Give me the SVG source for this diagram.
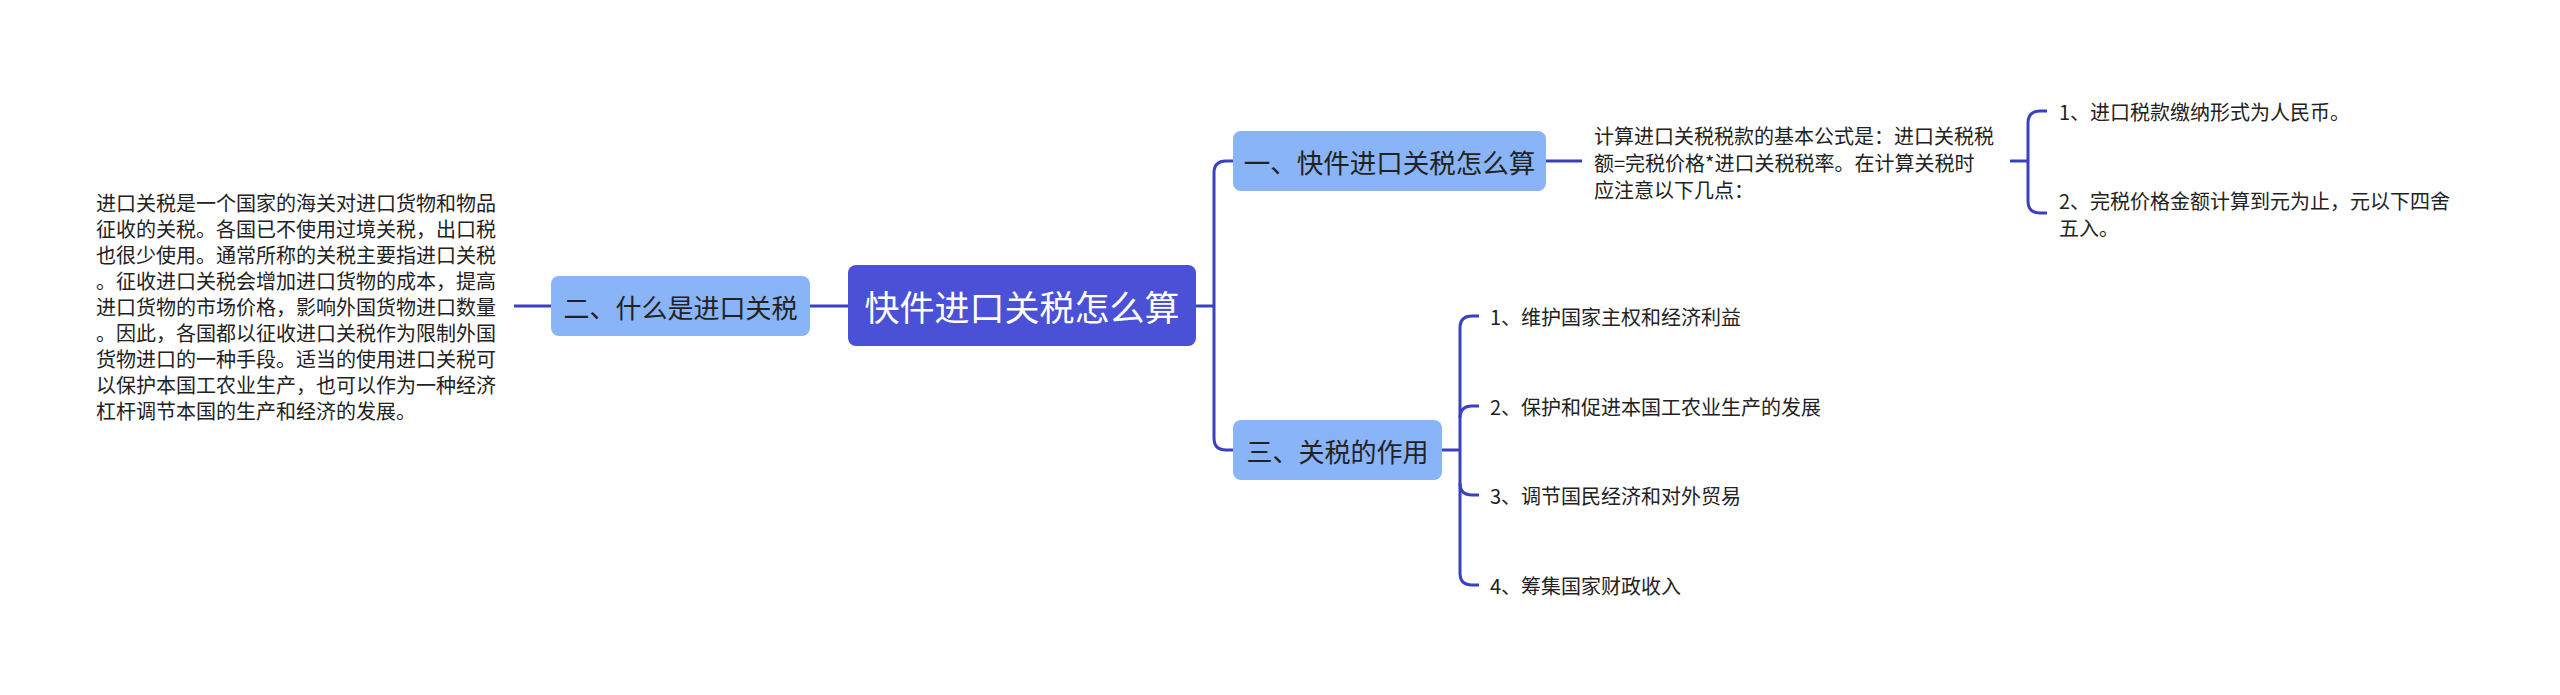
<svg xmlns="http://www.w3.org/2000/svg" width="2560" height="695" viewBox="0 0 2560 695">
<style>
.bg{fill:#ffffff}
.conn{fill:none;stroke:#3b40c0;stroke-width:3;stroke-linecap:butt}
.root{fill:#4a51d7}
.sub{fill:#8ab4f8}
.t{font-family:"Noto Sans CJK SC","Noto Sans",sans-serif;fill:#222222;dominant-baseline:central}
.rt{font-size:35px;fill:#ffffff;text-anchor:middle}
.st{font-size:26px;text-anchor:middle}
.p{font-size:20px}
</style>
<rect class="bg" x="0" y="0" width="2560" height="695"/>
<g id="connectors">
<path class="conn" d="M514,306 H551"/>
<path class="conn" d="M810,306 H848"/>
<path class="conn" d="M1196,306 H1214"/>
<path class="conn" d="M1233,161 H1226 Q1214,161 1214,173 V438 Q1214,450 1226,450 H1233"/>
<path class="conn" d="M1546,161 H1582"/>
<path class="conn" d="M2010,161 H2028"/>
<path class="conn" d="M2047,111 H2040 Q2028,111 2028,123 V201 Q2028,213 2040,213 H2047"/>
<path class="conn" d="M1442,450 H1460"/>
<path class="conn" d="M1479,316 H1472 Q1460,316 1460,328 V573 Q1460,585 1472,585 H1479"/>
<path class="conn" d="M1479,406 H1472 Q1460,406 1460,418"/>
<path class="conn" d="M1479,495 H1472 Q1460,495 1460,483"/>
</g>
<g id="root">
<rect class="root" x="848" y="265" width="348" height="81" rx="8"/>
<text class="t rt" x="1022" y="305">快件进口关税怎么算</text>
</g>
<g id="node2">
<rect class="sub" x="551" y="276" width="259" height="60" rx="8"/>
<text class="t st" x="680.5" y="306">二、什么是进口关税</text>
</g>
<g id="node2-text">
<text class="t p" x="96" y="202">进口关税是一个国家的海关对进口货物和物品</text>
<text class="t p" x="96" y="228">征收的关税。各国已不使用过境关税，出口税</text>
<text class="t p" x="96" y="254">也很少使用。通常所称的关税主要指进口关税</text>
<text class="t p" x="96" y="280">。征收进口关税会增加进口货物的成本，提高</text>
<text class="t p" x="96" y="306">进口货物的市场价格，影响外国货物进口数量</text>
<text class="t p" x="96" y="332">。因此，各国都以征收进口关税作为限制外国</text>
<text class="t p" x="96" y="358">货物进口的一种手段。适当的使用进口关税可</text>
<text class="t p" x="96" y="384">以保护本国工农业生产，也可以作为一种经济</text>
<text class="t p" x="96" y="410">杠杆调节本国的生产和经济的发展。</text>
</g>
<g id="node1">
<rect class="sub" x="1233" y="131" width="313" height="60" rx="8"/>
<text class="t st" x="1389.5" y="161" style="font-size:26.5px">一、快件进口关税怎么算</text>
</g>
<g id="node1-text">
<text class="t p" x="1594" y="135">计算进口关税税款的基本公式是：进口关税税</text>
<text class="t p" x="1594" y="162">额=完税价格*进口关税税率。在计算关税时</text>
<text class="t p" x="1594" y="189">应注意以下几点：</text>
</g>
<g id="node1-1">
<text class="t p" x="2059" y="111">1、进口税款缴纳形式为人民币。</text>
</g>
<g id="node1-2">
<text class="t p" x="2059" y="200">2、完税价格金额计算到元为止，元以下四舍</text>
<text class="t p" x="2059" y="227">五入。</text>
</g>
<g id="node3">
<rect class="sub" x="1233" y="420" width="209" height="60" rx="8"/>
<text class="t st" x="1337.5" y="450">三、关税的作用</text>
</g>
<g id="node3-1"><text class="t p" x="1490" y="316">1、维护国家主权和经济利益</text></g>
<g id="node3-2"><text class="t p" x="1490" y="406">2、保护和促进本国工农业生产的发展</text></g>
<g id="node3-3"><text class="t p" x="1490" y="495">3、调节国民经济和对外贸易</text></g>
<g id="node3-4"><text class="t p" x="1490" y="585">4、筹集国家财政收入</text></g>
</svg>
